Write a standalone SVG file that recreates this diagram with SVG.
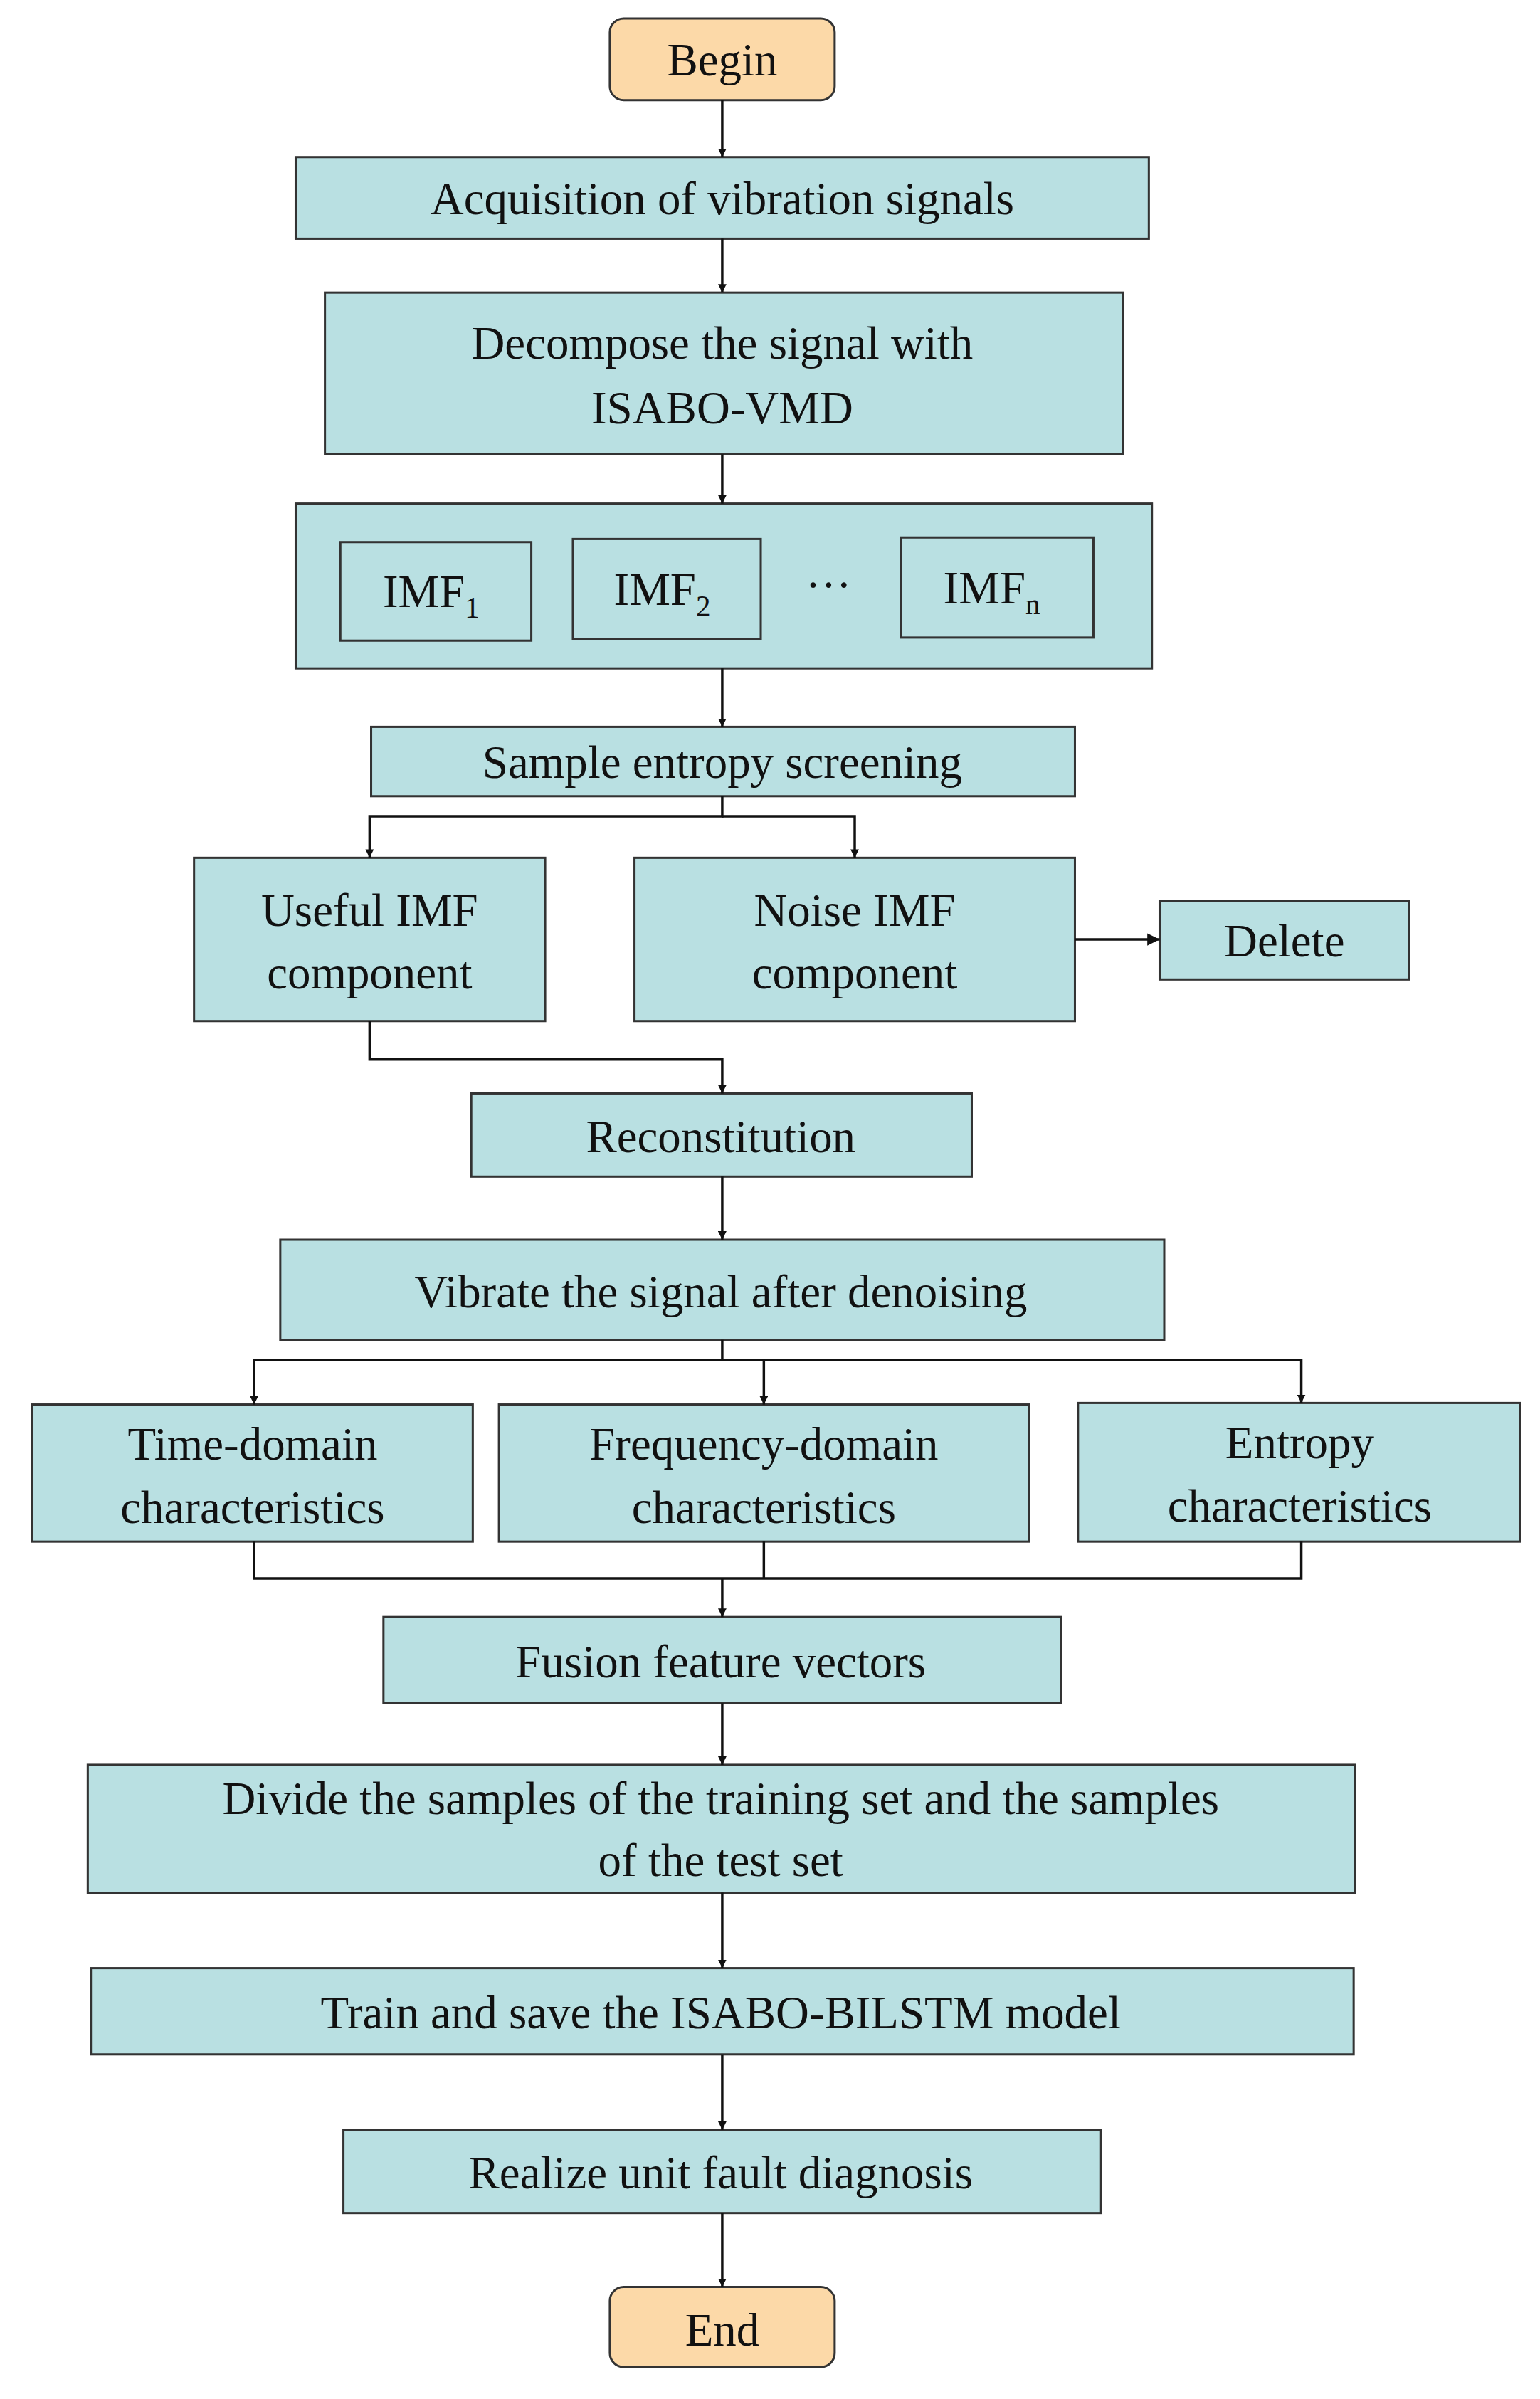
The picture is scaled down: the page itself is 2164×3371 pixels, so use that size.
<svg xmlns="http://www.w3.org/2000/svg" width="2164" height="3371" viewBox="0 0 2164 3371">
<defs>
<style>
.b{fill:#B9E0E2;stroke:#333;stroke-width:1.4}
.t{fill:#FCD9A8;stroke:#333;stroke-width:1.4}
.w{fill:none;stroke:#333;stroke-width:1.4}
text{font-family:"Liberation Serif","Times New Roman",serif;font-size:30px;fill:#111;text-anchor:middle}
.c path{fill:none;stroke:#111;stroke-width:1.6}
</style>
<marker id="a" viewBox="0 0 10 10" refX="10" refY="5" markerWidth="5.5" markerHeight="5.5" orient="auto" markerUnits="userSpaceOnUse"><path d="M0,0L10,5L0,10z" fill="#111"/></marker>
<marker id="a2" viewBox="0 0 10 10" refX="10" refY="5" markerWidth="8" markerHeight="8" orient="auto" markerUnits="userSpaceOnUse"><path d="M0,0L10,5L0,10z" fill="#111"/></marker>
</defs>
<rect width="2164" height="3371" fill="#fff"/>
<g transform="scale(2.164)">
<g id="begin"><rect class="t" x="396" y="12" width="146" height="53" rx="9"/><text x="469" y="49">Begin</text></g>
<g id="acq"><rect class="b" x="192" y="102" width="554" height="53"/><text x="469" y="139">Acquisition of vibration signals</text></g>
<g id="dec"><rect class="b" x="211" y="190" width="518" height="105"/><text x="469" y="233">Decompose the signal with</text><text x="469" y="275">ISABO-VMD</text></g>
<g id="imf"><rect class="b" x="192" y="327" width="556" height="107"/>
<rect class="w" x="221" y="352" width="124" height="64"/><text x="280" y="394">IMF<tspan font-size="19" dy="7">1</tspan></text>
<rect class="w" x="372" y="350" width="122" height="65"/><text x="430" y="393">IMF<tspan font-size="19" dy="7">2</tspan></text>
<text x="538" y="390">···</text>
<rect class="w" x="585" y="349" width="125" height="65"/><text x="644" y="392">IMF<tspan font-size="19" dy="7">n</tspan></text></g>
<g id="samp"><rect class="b" x="241" y="472" width="457" height="45"/><text x="469" y="505">Sample entropy screening</text></g>
<g id="useful"><rect class="b" x="126" y="557" width="228" height="106"/><text x="240" y="601">Useful IMF</text><text x="240" y="642">component</text></g>
<g id="noise"><rect class="b" x="412" y="557" width="286" height="106"/><text x="555" y="601">Noise IMF</text><text x="555" y="642">component</text></g>
<g id="del"><rect class="b" x="753" y="585" width="162" height="51"/><text x="834" y="621">Delete</text></g>
<g id="rec"><rect class="b" x="306" y="710" width="325" height="54"/><text x="468" y="748">Reconstitution</text></g>
<g id="vib"><rect class="b" x="182" y="805" width="574" height="65"/><text x="468" y="849">Vibrate the signal after denoising</text></g>
<g id="time"><rect class="b" x="21" y="912" width="286" height="89"/><text x="164" y="948">Time-domain</text><text x="164" y="989">characteristics</text></g>
<g id="freq"><rect class="b" x="324" y="912" width="344" height="89"/><text x="496" y="948">Frequency-domain</text><text x="496" y="989">characteristics</text></g>
<g id="ent"><rect class="b" x="700" y="911" width="287" height="90"/><text x="844" y="947">Entropy</text><text x="844" y="988">characteristics</text></g>
<g id="fus"><rect class="b" x="249" y="1050" width="440" height="56"/><text x="468" y="1089">Fusion feature vectors</text></g>
<g id="div"><rect class="b" x="57" y="1146" width="823" height="83"/><text x="468" y="1178">Divide the samples of the training  set and the samples</text><text x="468" y="1218">of the test set</text></g>
<g id="train"><rect class="b" x="59" y="1278" width="820" height="56"/><text x="468" y="1317">Train and save the ISABO-BILSTM  model</text></g>
<g id="real"><rect class="b" x="223" y="1383" width="492" height="54"/><text x="468" y="1421">Realize unit fault diagnosis</text></g>
<g id="end"><rect class="t" x="396" y="1485" width="146" height="52" rx="9"/><text x="469" y="1523">End</text></g>
<g class="c">
<path d="M469,65V102" marker-end="url(#a)"/>
<path d="M469,155V190" marker-end="url(#a)"/>
<path d="M469,295V327" marker-end="url(#a)"/>
<path d="M469,434V472" marker-end="url(#a)"/>
<path d="M469,517V530H240V557" marker-end="url(#a)"/>
<path d="M469,530H555V557" marker-end="url(#a)"/>
<path d="M698,610H753" marker-end="url(#a2)"/>
<path d="M240,663V688H469V710" marker-end="url(#a)"/>
<path d="M469,764V805" marker-end="url(#a)"/>
<path d="M469,870V883H165V912" marker-end="url(#a)"/>
<path d="M469,883H845V911" marker-end="url(#a)"/>
<path d="M496,883V912" marker-end="url(#a)"/>
<path d="M165,1001V1025H845V1001M496,1001V1025"/>
<path d="M469,1025V1050" marker-end="url(#a)"/>
<path d="M469,1106V1146" marker-end="url(#a)"/>
<path d="M469,1229V1278" marker-end="url(#a)"/>
<path d="M469,1334V1383" marker-end="url(#a)"/>
<path d="M469,1437V1485" marker-end="url(#a)"/>
</g>
</g>
</svg>
